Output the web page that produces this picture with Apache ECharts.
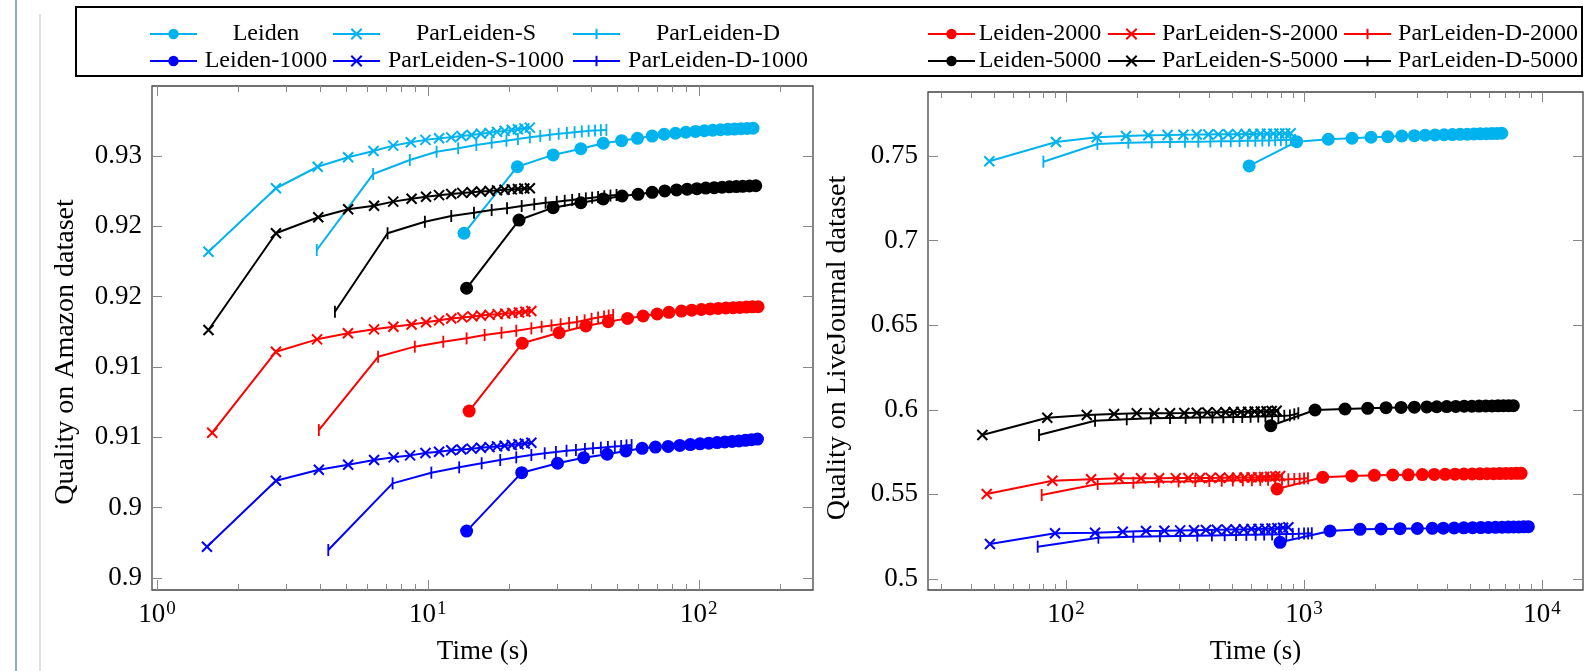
<!DOCTYPE html>
<html>
<head>
<meta charset="utf-8">
<script src="https://cdn.jsdelivr.net/npm/echarts@6/dist/echarts.min.js"></script>
<style>
html, body { margin: 0; padding: 0; background: #fff; }
#main { width: 1587px; height: 671px; }
</style>
</head>
<body>
<div id="main"></div>
<script>
// ---- Amazon dataset (left panel): time in seconds, quality ----
var amzLeidenT = [13.6, 21.4, 29.0, 36.7, 44.4, 51.9, 59.4, 67.3, 74.5, 82.0, 89.6, 97.3, 104.9, 112.6, 120.2, 127.9, 135.5, 143.2, 150.8, 158.6];
var amzLeidenQ = [0.92451, 0.92924, 0.93008, 0.93052, 0.93091, 0.93109, 0.93126, 0.93142, 0.93155, 0.93162, 0.93169, 0.93175, 0.9318, 0.93184, 0.93187, 0.9319, 0.93192, 0.93194, 0.93196, 0.93198];
var amzParST = [1.55, 2.75, 3.92, 5.08, 6.3, 7.45, 8.65, 9.8, 11.0, 12.2, 13.3, 14.5, 15.7, 16.9, 18.0, 19.2, 20.4, 21.5, 22.7, 23.8];
var amzParSQ = [0.9232, 0.92771, 0.92924, 0.92991, 0.93036, 0.93074, 0.93098, 0.93115, 0.93126, 0.93133, 0.93142, 0.9315, 0.93158, 0.93165, 0.93172, 0.93179, 0.93185, 0.93191, 0.93197, 0.93202];
var amzParDT = [3.89, 6.28, 8.58, 10.77, 12.94, 15.1, 17.2, 19.5, 21.5, 23.8, 26.0, 28.2, 30.4, 32.6, 34.8, 37.0, 39.2, 41.4, 43.5, 45.6];
var amzParDQ = [0.92332, 0.92872, 0.92972, 0.93031, 0.93055, 0.93079, 0.93095, 0.93109, 0.93121, 0.93133, 0.93143, 0.93151, 0.93158, 0.93164, 0.9317, 0.93175, 0.93179, 0.93182, 0.93184, 0.93186];

var amzLeiden1000T = [13.9, 22.2, 30.1, 37.6, 45.9, 53.8, 61.8, 69.2, 77.1, 85.1, 93.0, 101.0, 108.9, 116.9, 124.8, 132.8, 140.7, 148.7, 156.7, 164.7];
var amzLeiden1000Q = [0.90334, 0.90749, 0.90816, 0.90855, 0.9088, 0.90903, 0.90922, 0.90931, 0.90936, 0.90943, 0.90949, 0.90954, 0.90959, 0.90963, 0.90967, 0.90971, 0.90975, 0.90979, 0.90984, 0.90988];
var amzParS1000T = [1.53, 2.75, 3.96, 5.08, 6.33, 7.48, 8.6, 9.8, 11.0, 12.2, 13.3, 14.5, 15.7, 16.9, 18.0, 19.2, 20.4, 21.6, 22.8, 24.1];
var amzParS1000Q = [0.90223, 0.90692, 0.9077, 0.90806, 0.90839, 0.90858, 0.90872, 0.90889, 0.90898, 0.90908, 0.90914, 0.9092, 0.90926, 0.90931, 0.90936, 0.90941, 0.90946, 0.90951, 0.90957, 0.90962];
var amzParD1000T = [4.29, 7.41, 10.3, 13.05, 15.8, 18.5, 21.2, 24.1, 27.0, 29.7, 32.5, 35.2, 38.0, 40.7, 43.5, 46.2, 49.0, 51.7, 54.1, 56.5];
var amzParD1000Q = [0.90199, 0.90673, 0.90749, 0.90787, 0.90816, 0.90839, 0.90858, 0.90875, 0.90887, 0.90896, 0.90905, 0.90911, 0.90917, 0.90922, 0.90927, 0.90931, 0.90935, 0.90939, 0.90943, 0.90946];

var amzLeiden2000T = [14.2, 22.3, 30.5, 38.3, 46.3, 54.6, 62.3, 70.2, 77.6, 86.3, 94.2, 102.2, 110.1, 118.0, 126.0, 133.9, 141.8, 149.7, 157.6, 165.5];
var amzLeiden2000Q = [0.91187, 0.91669, 0.91744, 0.91792, 0.91822, 0.91846, 0.91863, 0.91877, 0.91889, 0.91898, 0.91904, 0.91909, 0.91913, 0.91917, 0.9192, 0.91922, 0.91924, 0.91926, 0.91928, 0.91929];
var amzParS2000T = [1.6, 2.75, 3.9, 5.07, 6.33, 7.46, 8.71, 9.85, 11.0, 12.2, 13.4, 14.6, 15.7, 16.9, 18.1, 19.3, 20.5, 21.7, 22.9, 24.1];
var amzParS2000Q = [0.91033, 0.91609, 0.91697, 0.9174, 0.91768, 0.91787, 0.91802, 0.91818, 0.91832, 0.91845, 0.91853, 0.9186, 0.91866, 0.91871, 0.91876, 0.9188, 0.91884, 0.91888, 0.91893, 0.91898];
var amzParD2000T = [3.96, 6.55, 8.95, 11.4, 13.9, 16.2, 18.7, 21.2, 24.1, 26.3, 28.6, 30.9, 33.2, 35.5, 37.9, 40.2, 42.5, 44.7, 46.5, 48.3];
var amzParD2000Q = [0.91052, 0.91573, 0.91645, 0.9168, 0.91704, 0.91728, 0.91744, 0.91758, 0.91775, 0.91786, 0.91796, 0.91805, 0.91813, 0.9182, 0.91832, 0.91843, 0.91852, 0.9186, 0.91866, 0.9187];

var amzLeiden5000T = [13.9, 21.7, 29.0, 36.7, 44.4, 52.1, 59.7, 67.3, 74.9, 82.8, 90.6, 98.4, 106.2, 114.0, 121.9, 129.7, 137.5, 145.2, 153.8, 162.3];
var amzLeiden5000Q = [0.9206, 0.92545, 0.92633, 0.92668, 0.92695, 0.92716, 0.92728, 0.92742, 0.92752, 0.92759, 0.92764, 0.92768, 0.92772, 0.92775, 0.92778, 0.92781, 0.92783, 0.92785, 0.92787, 0.92789];
var amzParS5000T = [1.55, 2.75, 3.94, 5.08, 6.33, 7.45, 8.71, 9.85, 11.0, 12.2, 13.4, 14.5, 15.7, 16.9, 18.0, 19.2, 20.4, 21.5, 22.7, 23.8];
var amzParS5000Q = [0.91763, 0.92451, 0.92565, 0.92622, 0.92647, 0.92676, 0.92697, 0.92711, 0.92722, 0.9273, 0.92738, 0.92743, 0.92748, 0.92752, 0.92756, 0.9276, 0.92763, 0.92766, 0.92769, 0.92771];
var amzParD5000T = [4.54, 7.1, 9.75, 12.2, 14.8, 17.2, 19.6, 22.2, 24.7, 27.2, 29.9, 32.0, 34.1, 36.2, 38.3, 40.4, 42.5, 44.8, 47.2, 49.7];
var amzParD5000Q = [0.91893, 0.92451, 0.92533, 0.92574, 0.92597, 0.92616, 0.92629, 0.92645, 0.92657, 0.92668, 0.92675, 0.92682, 0.92688, 0.92694, 0.92699, 0.92704, 0.92709, 0.92714, 0.92719, 0.92723];

// ---- LiveJournal dataset (right panel) ----
var ljLeidenT = [588, 931, 1265, 1591, 1912, 2247, 2574, 2907, 3224, 3550, 3875, 4200, 4525, 4850, 5175, 5500, 5825, 6150, 6460, 6772];
var ljLeidenQ = [0.7441, 0.75844, 0.75987, 0.76046, 0.76105, 0.7614, 0.76181, 0.76199, 0.76223, 0.76238, 0.76252, 0.76264, 0.76276, 0.76287, 0.76297, 0.76307, 0.76316, 0.76325, 0.76333, 0.76341];
var ljParST = [47.6, 90.7, 134.6, 178.7, 221.7, 267, 311, 354, 396, 436, 480, 524, 568, 612, 655, 699, 743, 787, 833, 878];
var ljParSQ = [0.74686, 0.75827, 0.76104, 0.76181, 0.76222, 0.7624, 0.76258, 0.76265, 0.76272, 0.76278, 0.76284, 0.7629, 0.76296, 0.76302, 0.76308, 0.76314, 0.7632, 0.76327, 0.76334, 0.76341];
var ljParDT = [80.3, 135.4, 182.7, 229, 273.5, 316, 359.5, 404, 448, 492, 536, 580, 624, 668, 712, 756, 799, 842, 879, 916];
var ljParDQ = [0.74662, 0.75708, 0.75785, 0.75809, 0.75827, 0.75838, 0.75847, 0.75856, 0.75865, 0.75874, 0.75883, 0.75892, 0.75901, 0.7591, 0.75919, 0.75928, 0.75937, 0.75946, 0.75955, 0.75963];

var ljLeiden1000T = [793, 1285, 1719, 2106, 2532, 2993, 3459, 3848, 4270, 4690, 5110, 5530, 5950, 6370, 6790, 7210, 7600, 7990, 8370, 8757];
var ljLeiden1000Q = [0.52169, 0.52837, 0.52937, 0.52955, 0.52973, 0.52985, 0.52996, 0.53006, 0.53015, 0.53024, 0.53032, 0.5304, 0.53047, 0.53054, 0.5306, 0.53066, 0.53072, 0.53078, 0.53085, 0.53091];
var ljParS1000T = [47.9, 89.9, 132.4, 173, 216.8, 258.8, 301.5, 345, 387, 430, 473, 516, 558, 601, 644, 687, 730, 773, 816, 859];
var ljParS1000Q = [0.52069, 0.52701, 0.52736, 0.52795, 0.52837, 0.52855, 0.52873, 0.52885, 0.52896, 0.52907, 0.52918, 0.52929, 0.5294, 0.52951, 0.52962, 0.52973, 0.52987, 0.53005, 0.5303, 0.53055];
var ljParD1000T = [76, 136.7, 191.8, 248, 302, 356, 410, 464, 518, 572, 626, 680, 734, 788, 842, 896, 950, 1000, 1040, 1078];
var ljParD1000Q = [0.51909, 0.52441, 0.525, 0.5253, 0.52548, 0.52563, 0.52576, 0.52588, 0.52599, 0.52609, 0.52619, 0.52628, 0.52637, 0.52646, 0.52655, 0.52664, 0.52673, 0.52682, 0.52692, 0.52701];

var ljLeiden2000T = [770, 1198, 1586, 1974, 2359, 2742, 3140, 3525, 3915, 4305, 4695, 5085, 5475, 5865, 6255, 6645, 7035, 7425, 7800, 8166];
var ljLeiden2000Q = [0.55319, 0.5601, 0.56087, 0.56129, 0.56146, 0.56158, 0.56169, 0.56178, 0.56187, 0.56195, 0.56203, 0.5621, 0.56216, 0.56222, 0.56227, 0.56232, 0.56236, 0.5624, 0.56244, 0.56247];
var ljParS2000T = [46.4, 87.6, 127.4, 167, 206.5, 246, 289, 326.6, 366, 405, 444, 484, 523, 562, 602, 641, 680, 720, 757, 793];
var ljParS2000Q = [0.55024, 0.5581, 0.55892, 0.55951, 0.55955, 0.55958, 0.55962, 0.55966, 0.5597, 0.55975, 0.5598, 0.55986, 0.55992, 0.55998, 0.56005, 0.56012, 0.56025, 0.56045, 0.56066, 0.56088];
var ljParD2000T = [79, 135.8, 191.8, 245, 297, 349, 400, 451, 502, 553, 604, 655, 706, 757, 808, 859, 910, 958, 1000, 1039];
var ljParD2000Q = [0.54964, 0.55615, 0.55691, 0.5575, 0.55768, 0.55784, 0.55798, 0.5581, 0.55821, 0.55832, 0.55843, 0.55853, 0.55863, 0.55873, 0.55883, 0.55893, 0.55905, 0.55918, 0.55934, 0.55951];

var ljLeiden5000T = [724.6, 1112, 1486, 1851, 2210, 2557, 2907, 3278, 3611, 3975, 4340, 4705, 5070, 5435, 5800, 6165, 6530, 6880, 7230, 7574];
var ljLeiden5000Q = [0.5906, 0.59988, 0.60047, 0.60088, 0.60124, 0.60142, 0.60157, 0.6017, 0.60181, 0.60191, 0.602, 0.60208, 0.60215, 0.60221, 0.60226, 0.6023, 0.60234, 0.60237, 0.6024, 0.60242];
var ljParS5000T = [44.5, 83.4, 122.2, 159.1, 198.2, 235, 273.5, 314, 354, 392, 430, 468, 506, 544, 582, 620, 658, 696, 731, 767];
var ljParS5000Q = [0.5851, 0.59533, 0.59692, 0.59752, 0.59793, 0.59793, 0.59793, 0.5981, 0.59828, 0.59838, 0.59848, 0.59858, 0.59867, 0.59876, 0.59885, 0.59894, 0.59903, 0.59914, 0.5993, 0.59947];
var ljParD5000T = [77, 132.4, 179.9, 227, 273.5, 318, 366, 412, 458, 504, 550, 596, 642, 688, 734, 780, 826, 872, 910, 946];
var ljParD5000Q = [0.5851, 0.59355, 0.59438, 0.59497, 0.59515, 0.59527, 0.59538, 0.59548, 0.59558, 0.59568, 0.59578, 0.59588, 0.59598, 0.59608, 0.59618, 0.59628, 0.59645, 0.59665, 0.5973, 0.59793];

// ---- ticks ----
var amzXMajor = [1, 10, 100];
var amzXMinor = [2, 3, 4, 5, 6, 7, 8, 9, 20, 30, 40, 50, 60, 70, 80, 90, 200];
var amzYTicks = [0.9, 0.905, 0.91, 0.915, 0.92, 0.925, 0.93];
var amzYLabels = ['0.9', '0.9', '0.91', '0.91', '0.92', '0.92', '0.93'];
var ljXMajor = [100, 1000, 10000];
var ljXMinor = [30, 40, 50, 60, 70, 80, 90, 200, 300, 400, 500, 600, 700, 800, 900, 2000, 3000, 4000, 5000, 6000, 7000, 8000, 9000];
var ljYTicks = [0.5, 0.55, 0.6, 0.65, 0.7, 0.75];
var ljYLabels = ['0.5', '0.55', '0.6', '0.65', '0.7', '0.75'];

var cyan = '#00B3EE', blue = '#0000FF', red = '#FF0000', black = '#000000';
var serif = 'Liberation Serif';
var markX = 'path://M0,0L10,10M10,0L0,10';
var markBar = 'path://M0,5L0,5M5,0L5,10M10,5L10,5';

function pairs(t, q) {
    var out = [];
    for (var i = 0; i < t.length; i++) out.push([t[i], q[i]]);
    return out;
}

function line(name, grid, t, q, color, mark) {
    var sym = mark == 'o' ? 'circle' : (mark == 'x' ? markX : markBar);
    var size = mark == 'o' ? 13 : (mark == 'x' ? 10 : [10, 12]);
    return {
        name: name, type: 'line',
        xAxisIndex: grid * 4, yAxisIndex: grid * 2,
        data: pairs(t, q),
        symbol: sym, symbolSize: size, showAllSymbol: true,
        lineStyle: { color: color, width: 2 },
        itemStyle: { color: color, borderColor: color, borderWidth: mark == 'o' ? 0 : 2 },
        emphasis: { disabled: true },
        animation: false
    };
}

var tickStyle = { color: '#888', width: 1 };
function xAxes(grid, min, max, major, minor) {
    var base = { type: 'log', gridIndex: grid, min: min, max: max, axisLine: { show: false }, splitLine: { show: false } };
    var a = Object.assign({}, base, {
        position: 'bottom',
        name: 'Time (s)', nameLocation: 'middle', nameGap: 48,
        nameTextStyle: { fontFamily: serif, fontSize: 27, color: '#000' },
        axisTick: { inside: true, length: 10, lineStyle: tickStyle, customValues: major },
        axisLabel: {
            customValues: major, margin: 10, color: '#000', fontFamily: serif, fontSize: 27,
            formatter: function (v) { return '10{s|' + Math.round(Math.log10(v)) + '}'; },
            rich: { s: { fontFamily: serif, fontSize: 19, color: '#000', verticalAlign: 'top', padding: [0, 0, 10, 1] } }
        }
    });
    var b = Object.assign({}, base, { position: 'bottom', axisLabel: { show: false },
        axisTick: { inside: true, length: 6, lineStyle: tickStyle, customValues: minor } });
    var c = Object.assign({}, base, { position: 'top', axisLabel: { show: false },
        axisTick: { inside: true, length: 10, lineStyle: tickStyle, customValues: major } });
    var d = Object.assign({}, base, { position: 'top', axisLabel: { show: false },
        axisTick: { inside: true, length: 6, lineStyle: tickStyle, customValues: minor } });
    return [a, b, c, d];
}

function yAxes(grid, min, max, ticks, labels, name, gap, shift) {
    var base = { type: 'value', gridIndex: grid, min: min, max: max, axisLine: { show: false }, splitLine: { show: false } };
    var a = Object.assign({}, base, {
        position: 'left',
        name: name, nameLocation: 'middle', nameGap: gap,
        nameTextStyle: { fontFamily: serif, fontSize: 28, color: '#000', padding: [0, shift, 0, 0] },
        axisTick: { inside: true, length: 10, lineStyle: tickStyle, customValues: ticks },
        axisLabel: {
            customValues: ticks, margin: 10, color: '#000', fontFamily: serif, fontSize: 27,
            formatter: function (v) {
                var best = 0;
                for (var i = 0; i < ticks.length; i++) {
                    if (Math.abs(ticks[i] - v) < Math.abs(ticks[best] - v)) best = i;
                }
                return labels[best];
            }
        }
    });
    var b = Object.assign({}, base, { position: 'right', axisLabel: { show: false },
        axisTick: { inside: true, length: 10, lineStyle: tickStyle, customValues: ticks } });
    return [a, b];
}

var series = [
    line('Leiden', 0, amzLeidenT, amzLeidenQ, cyan, 'o'),
    line('ParLeiden-S', 0, amzParST, amzParSQ, cyan, 'x'),
    line('ParLeiden-D', 0, amzParDT, amzParDQ, cyan, '|'),
    line('Leiden-2000', 0, amzLeiden2000T, amzLeiden2000Q, red, 'o'),
    line('ParLeiden-S-2000', 0, amzParS2000T, amzParS2000Q, red, 'x'),
    line('ParLeiden-D-2000', 0, amzParD2000T, amzParD2000Q, red, '|'),
    line('Leiden-1000', 0, amzLeiden1000T, amzLeiden1000Q, blue, 'o'),
    line('ParLeiden-S-1000', 0, amzParS1000T, amzParS1000Q, blue, 'x'),
    line('ParLeiden-D-1000', 0, amzParD1000T, amzParD1000Q, blue, '|'),
    line('Leiden-5000', 0, amzLeiden5000T, amzLeiden5000Q, black, 'o'),
    line('ParLeiden-S-5000', 0, amzParS5000T, amzParS5000Q, black, 'x'),
    line('ParLeiden-D-5000', 0, amzParD5000T, amzParD5000Q, black, '|'),

    line('Leiden', 1, ljLeidenT, ljLeidenQ, cyan, 'o'),
    line('ParLeiden-S', 1, ljParST, ljParSQ, cyan, 'x'),
    line('ParLeiden-D', 1, ljParDT, ljParDQ, cyan, '|'),
    line('Leiden-2000', 1, ljLeiden2000T, ljLeiden2000Q, red, 'o'),
    line('ParLeiden-S-2000', 1, ljParS2000T, ljParS2000Q, red, 'x'),
    line('ParLeiden-D-2000', 1, ljParD2000T, ljParD2000Q, red, '|'),
    line('Leiden-1000', 1, ljLeiden1000T, ljLeiden1000Q, blue, 'o'),
    line('ParLeiden-S-1000', 1, ljParS1000T, ljParS1000Q, blue, 'x'),
    line('ParLeiden-D-1000', 1, ljParD1000T, ljParD1000Q, blue, '|'),
    line('Leiden-5000', 1, ljLeiden5000T, ljLeiden5000Q, black, 'o'),
    line('ParLeiden-S-5000', 1, ljParS5000T, ljParS5000Q, black, 'x'),
    line('ParLeiden-D-5000', 1, ljParD5000T, ljParD5000Q, black, '|')
];

// legend: 6 columns x 2 rows, text centred in its cell
var legendCols = [
    { x: 149, w: 128 }, { x: 332, w: 182 }, { x: 572, w: 186 },
    { x: 927, w: 120 }, { x: 1107, w: 180 }, { x: 1343, w: 184 }
];
var legendRows = [
    ['Leiden', 'ParLeiden-S', 'ParLeiden-D', 'Leiden-2000', 'ParLeiden-S-2000', 'ParLeiden-D-2000'],
    ['Leiden-1000', 'ParLeiden-S-1000', 'ParLeiden-D-1000', 'Leiden-5000', 'ParLeiden-S-5000', 'ParLeiden-D-5000']
];
var legendRowY = [33, 60];
var legends = [];
legendRows.forEach(function (row, r) {
    row.forEach(function (name, c) {
        legends.push({
            data: [name], left: legendCols[c].x, top: legendRowY[r] - 11,
            itemWidth: 47, itemHeight: 13, padding: 0, selectedMode: false,
            formatter: function (n) { return '{c|' + n + '}'; },
            textStyle: {
                color: '#000',
                rich: { c: { width: legendCols[c].w, align: 'center', fontFamily: serif, fontSize: 24, color: '#000' } }
            }
        });
    });
});

var chart = echarts.init(document.getElementById('main'), null, { renderer: 'canvas' });
chart.setOption({
    animation: false,
    backgroundColor: '#fff',
    legend: legends,
    grid: [
        { left: 152, top: 86, width: 661, height: 504, show: true, borderColor: '#444', borderWidth: 1.3, containLabel: false },
        { left: 928, top: 92, width: 655, height: 498, show: true, borderColor: '#444', borderWidth: 1.3, containLabel: false }
    ],
    xAxis: xAxes(0, 0.959, 264, amzXMajor, amzXMinor).concat(xAxes(1, 26.3, 14860, ljXMajor, ljXMinor)),
    yAxis: yAxes(0, 0.89915, 0.93498, amzYTicks, amzYLabels, 'Quality on Amazon dataset', 72, 28)
        .concat(yAxes(1, 0.4935, 0.7878, ljYTicks, ljYLabels, 'Quality on LiveJournal dataset', 76, 14)),
    graphic: [
        { type: 'line', shape: { x1: 16, y1: 0, x2: 16, y2: 671 }, style: { stroke: '#8CA6E0', lineWidth: 2 } },
        { type: 'line', shape: { x1: 40, y1: 14, x2: 40, y2: 671 }, style: { stroke: '#D4D4D4', lineWidth: 1.5 } },
        { type: 'rect', shape: { x: 76, y: 7, width: 1506, height: 69 }, style: { fill: 'none', stroke: '#000', lineWidth: 2 } }
    ],
    series: series
});
</script>
</body>
</html>
